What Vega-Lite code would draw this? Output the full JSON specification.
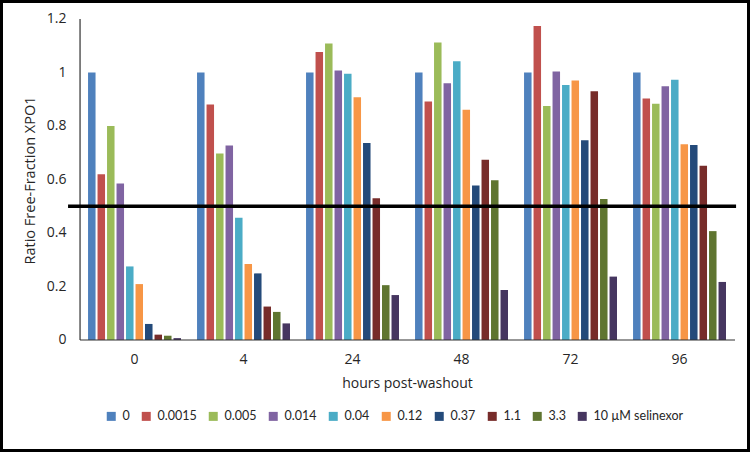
{
  "$schema": "https://vega.github.io/schema/vega-lite/v6.json",
  "width": 750,
  "height": 452,
  "padding": 0,
  "autosize": {"type": "none"},
  "background": "white",
  "config": {
    "view": {"stroke": "black", "strokeWidth": 6},
    "font": "Open Sans",
    "axis": {"labelColor": "#262626", "titleColor": "#262626", "titleFontWeight": "normal", "labelFontSize": 14, "titleFontSize": 14, "labelFont": "Open Sans", "titleFont": "Open Sans"}
  },
  "datasets": {
    "guides": [
      {"guide": "xaxis", "from": "96", "to": "0", "v": 0},
      {"guide": "threshold", "from": "96", "to": "0", "v": 0.5}
    ],
    "yaxis": [
      {"at": "0", "v": 0, "v2": 1.2}
    ]
  },
  "layer": [
    {
      "data": {
        "values": [
          {"hour": "0", "conc": "0", "ratio": 1.0},
          {"hour": "0", "conc": "0.0015", "ratio": 0.62},
          {"hour": "0", "conc": "0.005", "ratio": 0.80},
          {"hour": "0", "conc": "0.014", "ratio": 0.585},
          {"hour": "0", "conc": "0.04", "ratio": 0.275},
          {"hour": "0", "conc": "0.12", "ratio": 0.209},
          {"hour": "0", "conc": "0.37", "ratio": 0.06},
          {"hour": "0", "conc": "1.1", "ratio": 0.02},
          {"hour": "0", "conc": "3.3", "ratio": 0.016},
          {"hour": "0", "conc": "10 µM selinexor", "ratio": 0.007},
          {"hour": "4", "conc": "0", "ratio": 1.0},
          {"hour": "4", "conc": "0.0015", "ratio": 0.88},
          {"hour": "4", "conc": "0.005", "ratio": 0.697},
          {"hour": "4", "conc": "0.014", "ratio": 0.727},
          {"hour": "4", "conc": "0.04", "ratio": 0.457},
          {"hour": "4", "conc": "0.12", "ratio": 0.284},
          {"hour": "4", "conc": "0.37", "ratio": 0.249},
          {"hour": "4", "conc": "1.1", "ratio": 0.125},
          {"hour": "4", "conc": "3.3", "ratio": 0.105},
          {"hour": "4", "conc": "10 µM selinexor", "ratio": 0.062},
          {"hour": "24", "conc": "0", "ratio": 1.0},
          {"hour": "24", "conc": "0.0015", "ratio": 1.077},
          {"hour": "24", "conc": "0.005", "ratio": 1.108},
          {"hour": "24", "conc": "0.014", "ratio": 1.007},
          {"hour": "24", "conc": "0.04", "ratio": 0.995},
          {"hour": "24", "conc": "0.12", "ratio": 0.907},
          {"hour": "24", "conc": "0.37", "ratio": 0.736},
          {"hour": "24", "conc": "1.1", "ratio": 0.53},
          {"hour": "24", "conc": "3.3", "ratio": 0.205},
          {"hour": "24", "conc": "10 µM selinexor", "ratio": 0.168},
          {"hour": "48", "conc": "0", "ratio": 1.0},
          {"hour": "48", "conc": "0.0015", "ratio": 0.892},
          {"hour": "48", "conc": "0.005", "ratio": 1.112},
          {"hour": "48", "conc": "0.014", "ratio": 0.96},
          {"hour": "48", "conc": "0.04", "ratio": 1.042},
          {"hour": "48", "conc": "0.12", "ratio": 0.861},
          {"hour": "48", "conc": "0.37", "ratio": 0.578},
          {"hour": "48", "conc": "1.1", "ratio": 0.674},
          {"hour": "48", "conc": "3.3", "ratio": 0.597},
          {"hour": "48", "conc": "10 µM selinexor", "ratio": 0.187},
          {"hour": "72", "conc": "0", "ratio": 1.0},
          {"hour": "72", "conc": "0.0015", "ratio": 1.174},
          {"hour": "72", "conc": "0.005", "ratio": 0.875},
          {"hour": "72", "conc": "0.014", "ratio": 1.004},
          {"hour": "72", "conc": "0.04", "ratio": 0.953},
          {"hour": "72", "conc": "0.12", "ratio": 0.97},
          {"hour": "72", "conc": "0.37", "ratio": 0.747},
          {"hour": "72", "conc": "1.1", "ratio": 0.93},
          {"hour": "72", "conc": "3.3", "ratio": 0.527},
          {"hour": "72", "conc": "10 µM selinexor", "ratio": 0.237},
          {"hour": "96", "conc": "0", "ratio": 1.0},
          {"hour": "96", "conc": "0.0015", "ratio": 0.903},
          {"hour": "96", "conc": "0.005", "ratio": 0.883},
          {"hour": "96", "conc": "0.014", "ratio": 0.949},
          {"hour": "96", "conc": "0.04", "ratio": 0.973},
          {"hour": "96", "conc": "0.12", "ratio": 0.732},
          {"hour": "96", "conc": "0.37", "ratio": 0.729},
          {"hour": "96", "conc": "1.1", "ratio": 0.651},
          {"hour": "96", "conc": "3.3", "ratio": 0.407},
          {"hour": "96", "conc": "10 µM selinexor", "ratio": 0.217}
        ]
      },
      "mark": {"type": "bar"},
      "encoding": {
        "x": {
          "field": "hour", "type": "nominal",
          "scale": {"domain": ["0", "4", "24", "48", "72", "96"], "paddingInner": 0.147, "paddingOuter": 0.5138, "align": 0.786},
          "axis": {"orient": "bottom", "offset": -112, "domain": false, "ticks": false, "tickSize": 0, "labelPadding": 12, "labelAngle": 0, "title": "hours post-washout", "titleX": 407, "titleY": 36, "grid": false}
        },
        "xOffset": {
          "field": "conc", "type": "nominal",
          "scale": {"domain": ["0", "0.0015", "0.005", "0.014", "0.04", "0.12", "0.37", "1.1", "3.3", "10 µM selinexor"], "paddingInner": 0.21, "paddingOuter": 0}
        },
        "y": {
          "field": "ratio", "type": "quantitative",
          "scale": {"domain": [-0.4187, 1.271], "nice": false, "zero": false},
          "axis": {"orient": "left", "offset": -80, "values": [0, 0.2, 0.4, 0.6, 0.8, 1, 1.2], "format": "~g", "domain": false, "ticks": false, "tickSize": 0, "grid": false, "labelPadding": 14, "title": "Ratio Free-Fraction XPO1", "titleFontSize": 14.5, "titleX": -43, "titleY": 180}
        },
        "color": {
          "field": "conc", "type": "nominal",
          "scale": {
            "domain": ["0", "0.0015", "0.005", "0.014", "0.04", "0.12", "0.37", "1.1", "3.3", "10 µM selinexor"],
            "range": ["#4F81BD", "#C0504D", "#9BBB59", "#8064A2", "#4BACC6", "#F79646", "#244A7A", "#772C2A", "#5F7530", "#463660"]
          },
          "legend": {"orient": "none", "legendX": 105, "legendY": 410, "direction": "horizontal", "columns": 10, "title": null, "symbolType": "square", "symbolSize": 81, "symbolStrokeWidth": 0, "labelFont": "Lato", "labelFontSize": 12.5, "labelColor": "#262626", "labelOffset": 5, "columnPadding": 10}
        }
      }
    },
    {
      "data": {"name": "guides"},
      "transform": [{"filter": "datum.guide === 'xaxis'"}],
      "mark": {"type": "rule", "color": "#303030", "strokeWidth": 1.2},
      "encoding": {
        "x": {"field": "from", "type": "nominal", "bandPosition": 1.097},
        "x2": {"field": "to", "bandPosition": -0.086},
        "y": {"field": "v", "type": "quantitative"}
      }
    },
    {
      "data": {"name": "yaxis"},
      "mark": {"type": "rule", "color": "#303030", "strokeWidth": 1.2},
      "encoding": {
        "x": {"field": "at", "type": "nominal", "bandPosition": -0.086},
        "y": {"field": "v", "type": "quantitative"},
        "y2": {"field": "v2"}
      }
    },
    {
      "data": {"name": "guides"},
      "transform": [{"filter": "datum.guide === 'threshold'"}],
      "mark": {"type": "rule", "color": "black", "strokeWidth": 3.5},
      "encoding": {
        "x": {"field": "from", "type": "nominal", "bandPosition": 1.108},
        "x2": {"field": "to", "bandPosition": -0.215},
        "y": {"field": "v", "type": "quantitative"}
      }
    }
  ]
}
